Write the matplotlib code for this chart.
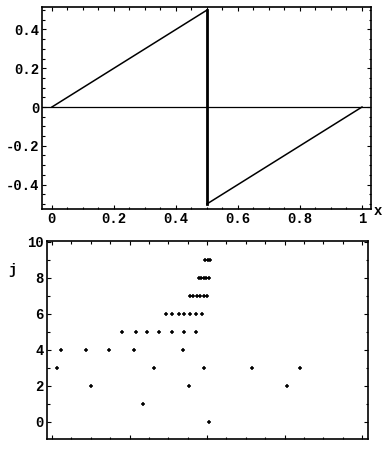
import matplotlib
matplotlib.use("Agg")
import matplotlib.pyplot as plt
from matplotlib.ticker import MultipleLocator

# top panel: sawtooth
saw_x = [0.0, 0.5, 0.5, 1.0]
saw_y = [0.0, 0.5, -0.5, 0.0]
top_xticks = [0, 0.2, 0.4, 0.6, 0.8, 1]
top_xlabels = ["0", "0.2", "0.4", "0.6", "0.8", "1"]
top_yticks = [-0.4, -0.2, 0, 0.2, 0.4]
top_ylabels = ["-0.4", "-0.2", "0", "0.2", "0.4"]

# bottom panel: points (x, j)
pts_j0 = [0.506]
pts_j1 = [0.295]
pts_j2 = [0.125, 0.443, 0.759]
pts_j3 = [0.015, 0.329, 0.490, 0.644, 0.801]
pts_j4 = [0.028, 0.109, 0.184, 0.265, 0.422]
pts_j5 = [0.227, 0.270, 0.307, 0.345, 0.388, 0.425, 0.463]
pts_j6 = [0.367, 0.388, 0.410, 0.425, 0.446, 0.463, 0.485]
pts_j7 = [0.445, 0.456, 0.467, 0.478, 0.489, 0.500]
pts_j8 = [0.474, 0.482, 0.490, 0.498, 0.506]
pts_j9 = [0.494, 0.502, 0.509]
rows = [pts_j0, pts_j1, pts_j2, pts_j3, pts_j4, pts_j5, pts_j6, pts_j7, pts_j8, pts_j9]
bot_yticks = [0, 2, 4, 6, 8, 10]
bot_ylabels = ["0", "2", "4", "6", "8", "10"]

font = "Liberation Mono"

fig = plt.figure(figsize=(3.86, 4.5), dpi=100)

ax1 = fig.add_axes([0.1088, 0.5356, 0.8523, 0.4489])
ax1.plot(saw_x[:2], saw_y[:2], color="black", lw=1.1)
ax1.plot(saw_x[1:3], saw_y[1:3], color="black", lw=2.0)
ax1.plot(saw_x[2:], saw_y[2:], color="black", lw=1.1)
ax1.axhline(0, color="black", lw=0.9)
ax1.set_xlim(-0.032, 1.029)
ax1.set_ylim(-0.526, 0.516)
ax1.set_xticks(top_xticks)
ax1.set_xticklabels(top_xlabels, family=font, fontsize=10, weight="bold")
ax1.set_yticks(top_yticks)
ax1.set_yticklabels(top_ylabels, family=font, fontsize=10, weight="bold")
ax1.xaxis.set_minor_locator(MultipleLocator(0.05))
ax1.yaxis.set_minor_locator(MultipleLocator(0.05))

ax2 = fig.add_axes([0.121, 0.0244, 0.8316, 0.44])
for j, xs in enumerate(rows):
    ax2.plot(xs, [j] * len(xs), linestyle="none", marker="+",
             color="black", ms=3.5, mew=1.1)
ax2.set_xlim(-0.017, 1.018)
ax2.set_ylim(-0.97, 10.04)
ax2.set_xticks([0, 0.25, 0.5, 0.75, 1])
ax2.set_xticklabels([])
ax2.set_yticks(bot_yticks)
ax2.set_yticklabels(bot_ylabels, family=font, fontsize=10, weight="bold")
ax2.xaxis.set_minor_locator(MultipleLocator(0.0625))
ax2.yaxis.set_minor_locator(MultipleLocator(1))

for ax in (ax1, ax2):
    ax.tick_params(which="both", direction="in", top=True, right=True,
                   width=0.8, pad=2)
    ax.tick_params(which="major", length=3)
    ax.tick_params(which="minor", length=1.8)
    for s in ax.spines.values():
        s.set_linewidth(1.2)

fig.text(378 / 386, 1 - 211 / 450, "x", family=font, fontsize=10,
         weight="bold", ha="center", va="center")
fig.text(12 / 386, 1 - 270 / 450, "j", family=font, fontsize=10,
         weight="bold", ha="center", va="center")

fig.savefig("out.png", dpi=100)
